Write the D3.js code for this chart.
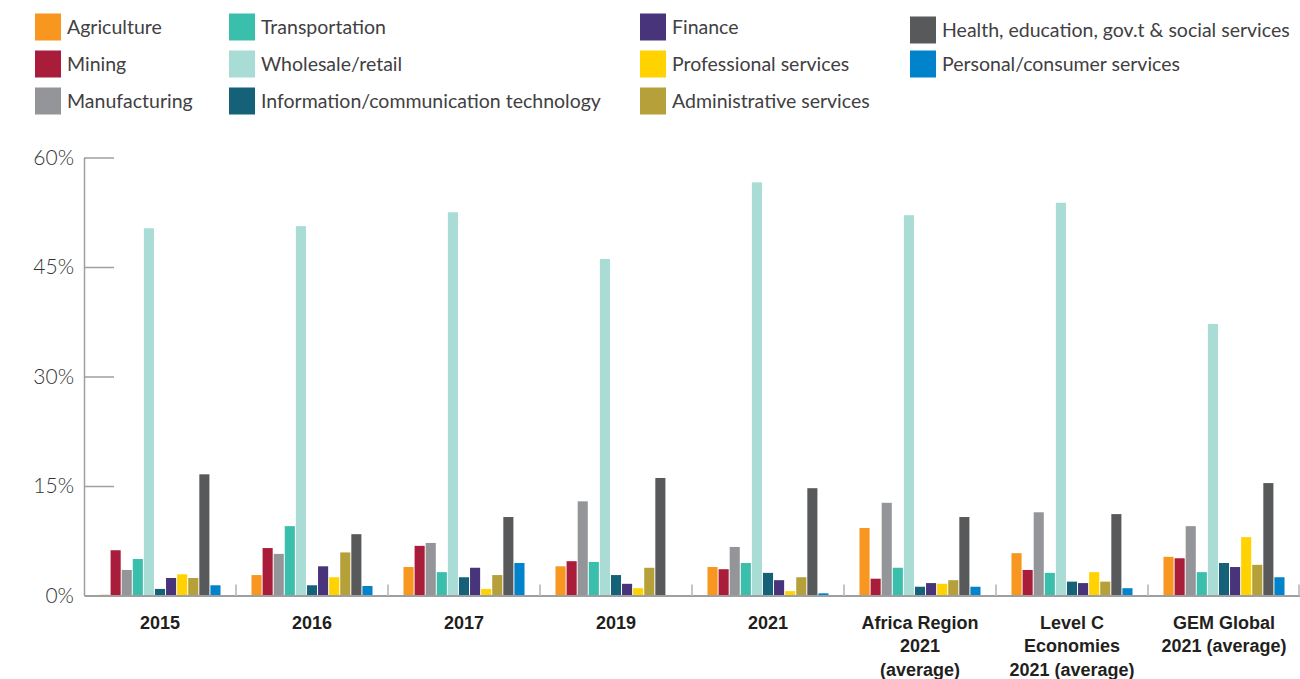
<!DOCTYPE html>
<html>
<head>
<meta charset="utf-8">
<script src="https://cdn.jsdelivr.net/npm/d3@7"></script>
<style>
  html, body { margin: 0; padding: 0; background: #fff; }
  svg { display: block; }
</style>
</head>
<body>
<svg id="chart" width="1300" height="679"></svg>
<script>
// Sectors of early-stage business activity, share of entrepreneurs (%)
const groups = ["2015", "2016", "2017", "2019", "2021",
  "Africa Region\n2021\n(average)", "Level C\nEconomies\n2021 (average)", "GEM Global\n2021 (average)"];

const sectors = ["Agriculture", "Mining", "Manufacturing", "Transportation", "Wholesale/retail",
  "Information/communication technology", "Finance", "Professional services",
  "Administrative services", "Health, education, gov.t & social services", "Personal/consumer services"];

const sectorColors = ["#F7971F", "#A91D3A", "#939598", "#3BBFAD", "#A8DCD5",
  "#156178", "#47347A", "#FFD200", "#B5A03A", "#58595B", "#0083CA"];

// one array per sector, values in group order
const agriculture    = [0.1, 2.8, 3.9, 4.0, 3.9, 9.25, 5.8, 5.3];
const mining         = [6.2, 6.5, 6.8, 4.7, 3.6, 2.3, 3.5, 5.1];
const manufacturing  = [3.5, 5.7, 7.2, 12.9, 6.65, 12.7, 11.4, 9.5];
const transportation = [5.0, 9.5, 3.2, 4.6, 4.45, 3.8, 3.1, 3.2];
const wholesale      = [50.3, 50.6, 52.5, 46.1, 56.6, 52.1, 53.8, 37.2];
const ict            = [0.9, 1.4, 2.5, 2.8, 3.1, 1.2, 1.9, 4.45];
const finance        = [2.4, 4.0, 3.8, 1.6, 2.1, 1.7, 1.7, 3.9];
const professional   = [2.9, 2.5, 0.9, 1.0, 0.6, 1.6, 3.2, 8.0];
const administrative = [2.4, 5.9, 2.8, 3.8, 2.5, 2.1, 1.9, 4.2];
const health         = [16.6, 8.4, 10.75, 16.1, 14.7, 10.75, 11.15, 15.4];
const personal       = [1.4, 1.3, 4.45, 0, 0.3, 1.2, 1.0, 2.5];

const yTicks = [0, 15, 30, 45, 60];

const seriesValues = [agriculture, mining, manufacturing, transportation, wholesale,
  ict, finance, professional, administrative, health, personal];

const svg = d3.select("#chart");

// ---- layout
const plot = { left: 84, right: 1300, top: 157.5, bottom: 595.5 };

const x0 = d3.scaleBand().domain(groups).range([plot.left, plot.right]).padding(0);
const innerWidth = 121;
const x1 = d3.scaleBand().domain(sectors).range([0, innerWidth]).paddingInner(0.09);
const y = d3.scaleLinear().domain([0, 60]).range([plot.bottom, plot.top]);
const color = d3.scaleOrdinal().domain(sectors).range(sectorColors);

// ---- legend
const legendCols = [
  { x: 35, items: [0, 1, 2] },
  { x: 229, items: [3, 4, 5] },
  { x: 640, items: [6, 7, 8] },
  { x: 910, items: [9, 10] }
];
const rowY = [27, 64, 101];
const legendFont = 19.5;
const legend = svg.append("g").attr("class", "legend");
legendCols.forEach((col, ci) => {
  col.items.forEach((si, ri) => {
    const cy = rowY[ri] + (ci === 3 && ri === 0 ? 3 : 0);
    legend.append("rect").attr("x", col.x).attr("y", cy - 13.5).attr("width", 26).attr("height", 27)
      .attr("fill", color(sectors[si]));
    legend.append("text").attr("x", col.x + 32).attr("y", cy + Math.round(legendFont * 0.35))
      .attr("font-family", "Lato, sans-serif")
      .attr("font-size", legendFont).attr("fill", "#414042").attr("font-weight", 400)
      .text(sectors[si]);
  });
});

// ---- y axis
const yAxis = d3.axisLeft(y).tickValues(yTicks).tickSize(0).tickPadding(10)
  .tickFormat(d => d + "%");
const gy = svg.append("g").attr("transform", `translate(${plot.left},0)`).call(yAxis);
gy.select(".domain").attr("stroke", "#9d9fa2").attr("stroke-width", 1.5);
gy.selectAll(".tick text").attr("font-size", 21).attr("fill", "#333333")
  .attr("font-family", "Lato, sans-serif").attr("font-weight", 300);
gy.selectAll(".tick").filter(d => d > 0).append("line")
  .attr("x1", 0).attr("x2", 30).attr("stroke", "#9d9fa2").attr("stroke-width", 1.5);

// ---- bars
const barLayer = svg.append("g");
groups.forEach((grp, gi) => {
  const gx = x0(grp) + (x0.bandwidth() - innerWidth) / 2;
  const g = barLayer.append("g").attr("transform", `translate(${gx},0)`);
  g.selectAll("rect")
    .data(sectors.map((s, si) => ({ s, v: seriesValues[si][gi] })).filter(d => d.v > 0))
    .join("rect")
    .attr("x", d => x1(d.s))
    .attr("width", x1.bandwidth())
    .attr("y", d => y(d.v))
    .attr("height", d => y(0) - y(d.v))
    .attr("fill", d => color(d.s));
});

// ---- x axis: baseline, group separators, labels
const xAxis = d3.axisBottom(x0).tickSize(0).tickPadding(0).tickFormat("");
const gx = svg.append("g").attr("transform", `translate(0,${plot.bottom})`).call(xAxis);
gx.select(".domain").attr("stroke", "#9d9fa2").attr("stroke-width", 2);

const boundaries = groups.map(g => x0(g)).slice(1).concat([plot.right - 1]);
svg.append("g").selectAll("line").data(boundaries).join("line")
  .attr("x1", d => d).attr("x2", d => d)
  .attr("y1", plot.bottom - 11).attr("y2", plot.bottom)
  .attr("stroke", "#c4c5c7").attr("stroke-width", 2);

// multi-line category labels: one text element per line
gx.selectAll(".tick text").remove();
const labelLines = groups.flatMap(g => g.split("\n").map((line, i) => ({ g, line, i })));
svg.append("g").attr("class", "x-labels")
  .selectAll("text").data(labelLines).join("text")
  .attr("text-anchor", "middle")
  .attr("x", d => x0(d.g) + x0.bandwidth() / 2)
  .attr("y", d => y(0) + 33 + d.i * 23.5)
  .attr("font-family", "'Liberation Sans', Arial, sans-serif")
  .attr("font-size", 18).attr("font-weight", 700).attr("fill", "#231f20")
  .text(d => d.line);
</script>
</body>
</html>
